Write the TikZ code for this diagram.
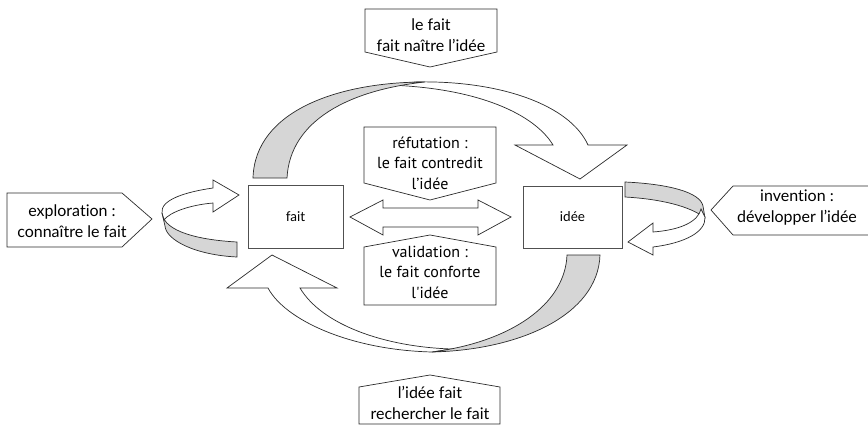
\documentclass[tikz,border=0pt]{standalone}
\usepackage{fontspec}
\setmainfont{Lato}[Ligatures=NoCommon]
\newfontfamily\myriad{PT Sans}
\usetikzlibrary{positioning}
\definecolor{ink}{HTML}{2B2B2B}
\definecolor{band}{HTML}{D6D6D6}
\definecolor{frame}{HTML}{505050}
\tikzset{
  boxnode/.style={draw=frame, line width=0.8pt, minimum width=95pt, minimum height=63pt, inner sep=0pt, font=\fontsize{13.5}{15}\selectfont},
  notebox/.style={draw=ink, line width=0.7pt, fill=white, line join=miter},
  notetext/.style={align=center, inner sep=0pt, font=\fontsize{16}{21}\selectfont},
  midtext/.style={align=center, inner sep=0pt, font=\myriad\fontsize{16}{20.5}\selectfont},
  ribbon/.style={draw=ink, line width=0.7pt, fill=white, line join=miter},
  ribbonback/.style={draw=ink, line width=0.7pt, fill=band}
}
\begin{document}
\begin{tikzpicture}[x=1pt, y=-1pt]
  \useasboundingbox (0,0) rectangle (868,428);

  % the two boxes
  \node[boxnode] (fait) at (295.5,216.5) {fait};
  \node[boxnode, minimum width=99pt, minimum height=62pt] (idee) at (572.5,217) {idée};

  % double arrow between them
  \draw[ribbon] (350,217) -- (383,200) -- (383,208) -- (478,208) -- (478,200) -- (511,217)
    -- (478,235) -- (478,227) -- (383,227) -- (383,235) -- cycle;

  % top arc: fait -> idee
  \draw[ribbon] (415,82) .. controls (500,80) and (570,105) .. (588,145) -- (627,145) -- (580,179)
    -- (515,145) -- (553,145) .. controls (535,115) and (480,88) .. (388,85) -- cycle;
  \draw[ribbonback] (253,178) .. controls (255,110) and (340,82) .. (425,82)
    .. controls (350,90) and (290,120) .. (287,178) -- cycle;

  % bottom arc: idee -> fait
  \draw[ribbon] (432,352) .. controls (350,350) and (285,320) .. (268,288) -- (227,288) -- (272,255)
    -- (337,288) -- (300,288) .. controls (322,325) and (385,347) .. (452,349) -- cycle;
  \draw[ribbonback] (600,255) .. controls (598,315) and (520,350) .. (432,352)
    .. controls (510,342) and (565,305) .. (567,255) -- cycle;

  % loop left of fait
  \draw[ribbon] (213,188) -- (213,180) -- (239,195) -- (213,212) -- (213,203)
    .. controls (190,205) and (170,212) .. (164,220) -- (162,213)
    .. controls (160,200) and (185,192) .. (213,188) -- cycle;
  \draw[ribbonback] (162,213) .. controls (164,232) and (200,240) .. (237,242) -- (237,257)
    .. controls (195,255) and (166,240) .. (165,226) -- cycle;

  % loop right of idee
  \draw[ribbonback] (625,182) .. controls (668,184) and (700,192) .. (703,206) -- (705,218)
    .. controls (690,206) and (660,199) .. (625,197) -- cycle;
  \draw[ribbon] (653,232) -- (653,223) -- (628,242) -- (653,255) -- (653,247)
    .. controls (685,243) and (706,232) .. (705,217) -- (701,209)
    .. controls (698,222) and (680,230) .. (653,232) -- cycle;

  % notes round the cycle
  \draw[notebox] (365,9) -- (497,9) -- (497,52) -- (430,67) -- (365,52) -- cycle;
  \node[notetext] (topnote) at (431,35) {le fait\\fait naître l’idée};

  \draw[notebox] (7,193) -- (122,193) -- (152,219) -- (122,247) -- (7,247) -- cycle;
  \node[notetext] (leftnote) at (72,221) {exploration :\\connaître le fait};

  \draw[notebox] (869,186) -- (733,186) -- (711,210) -- (733,235) -- (869,235);
  \node[notetext] (rightnote) at (797,208) {invention :\\développer l’idée};

  \draw[notebox] (430,375) -- (500,387) -- (500,424) -- (359,424) -- (359,387) -- cycle;
  \node[notetext] (bottomnote) at (430,403) {l’idée fait\\rechercher le fait};

  % notes on the double arrow
  \draw[notebox] (364,127) -- (496,127) -- (496,183) -- (430,200) -- (364,183) -- cycle;
  \node[midtext] (refut) at (430,163) {réfutation :\\le fait contredit\\l’idée};

  \draw[notebox] (430,235) -- (496,247) -- (496,305) -- (364,305) -- (364,247) -- cycle;
  \node[midtext] (valid) at (430,272) {validation :\\le fait conforte\\l'idée};
\end{tikzpicture}
\end{document}
